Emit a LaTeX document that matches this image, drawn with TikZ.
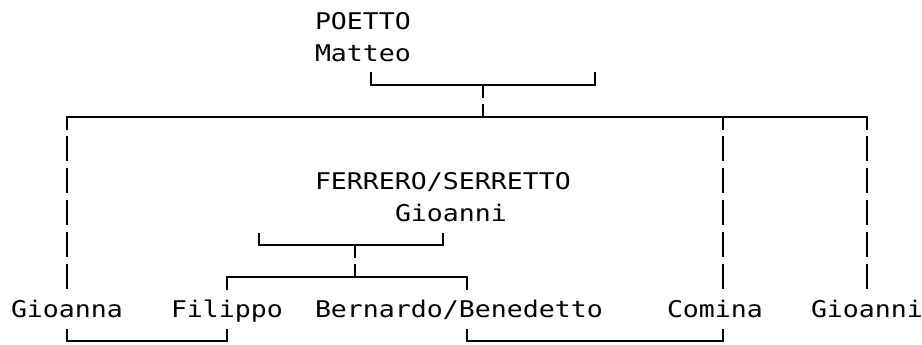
\documentclass[tikz,border=0pt]{standalone}
\usepackage{fontspec}
\newfontfamily\chartmono[FakeStretch=1.155]{DejaVu Sans Mono}
\begin{document}
\begin{tikzpicture}[x=1pt,y=-1pt,
  person/.style={anchor=base west,inner sep=0pt,outer sep=0pt,font=\chartmono\fontsize{23}{23}\selectfont,text=black},
  link/.style={draw=black,line width=2pt,line cap=butt,line join=miter},
  shortdrop/.style={link,dash pattern=on 13pt off 6pt},
  longdrop/.style={link,dash pattern=on 25pt off 7pt}]
\useasboundingbox (0,0) rectangle (922,345);
% names (column start x = 11+16c, baseline = row centre + 8.5)
\node[person] (poetto)   at (315,29.5)  {POETTO};
\node[person] (matteo)   at (315,61.5)  {Matteo};
\node[person] (ferrero)  at (315,189.5) {FERRERO/SERRETTO};
\node[person] (gioanniF) at (395,221.5) {Gioanni};
\node[person] (gioanna)  at (11,317.5)  {Gioanna};
\node[person] (filippo)  at (171,317.5) {Filippo};
\node[person] (bernardo) at (315,317.5) {Bernardo/Benedetto};
\node[person] (comina)   at (667,317.5) {Comina};
\node[person] (gioanni)  at (811,317.5) {Gioanni};
% grid points
\coordinate (pA1) at (371,72);  \coordinate (pA2) at (371,85);
\coordinate (pB1) at (595,72);  \coordinate (pB2) at (595,85);
\coordinate (pC)  at (483,85);  \coordinate (pD)  at (483,117);
\coordinate (cL1) at (67,130);  \coordinate (cL2) at (67,117);
\coordinate (cR1) at (867,130); \coordinate (cR2) at (867,117);
\coordinate (cM1) at (723,117); \coordinate (cM2) at (723,130);
\coordinate (vL1) at (67,136);  \coordinate (vL2) at (67,290);
\coordinate (vM1) at (723,136); \coordinate (vM2) at (723,290);
\coordinate (vR1) at (867,136); \coordinate (vR2) at (867,290);
\coordinate (fA1) at (259,233); \coordinate (fA2) at (259,245);
\coordinate (fB1) at (443,233); \coordinate (fB2) at (443,245);
\coordinate (fC)  at (355,245); \coordinate (fD)  at (355,277);
\coordinate (kL1) at (227,290); \coordinate (kL2) at (227,277);
\coordinate (kR1) at (467,290); \coordinate (kR2) at (467,277);
\coordinate (mA1) at (67,329);  \coordinate (mA2) at (67,341);
\coordinate (mB1) at (227,329); \coordinate (mB2) at (227,341);
\coordinate (mC1) at (467,329); \coordinate (mC2) at (467,341);
\coordinate (mD1) at (723,329); \coordinate (mD2) at (723,341);
% POETTO Matteo marriage and descent
\draw[link] (pA1) -- (pA2) -- (pB2) -- (pB1);
\draw[shortdrop] (pC) -- (pD);
% children bar
\draw[link] (cL1) -- (cL2) -- (cR2) -- (cR1);
\draw[link] (cM1) -- (cM2);
\draw[longdrop] (vL1) -- (vL2);
\draw[longdrop] (vM1) -- (vM2);
\draw[longdrop] (vR1) -- (vR2);
% FERRERO/SERRETTO Gioanni marriage and descent
\draw[link] (fA1) -- (fA2) -- (fB2) -- (fB1);
\draw[shortdrop] (fC) -- (fD);
\draw[link] (kL1) -- (kL2) -- (kR2) -- (kR1);
% marriages of the bottom row
\draw[link] (mA1) -- (mA2) -- (mB2) -- (mB1);
\draw[link] (mC1) -- (mC2) -- (mD2) -- (mD1);
\end{tikzpicture}
\end{document}
